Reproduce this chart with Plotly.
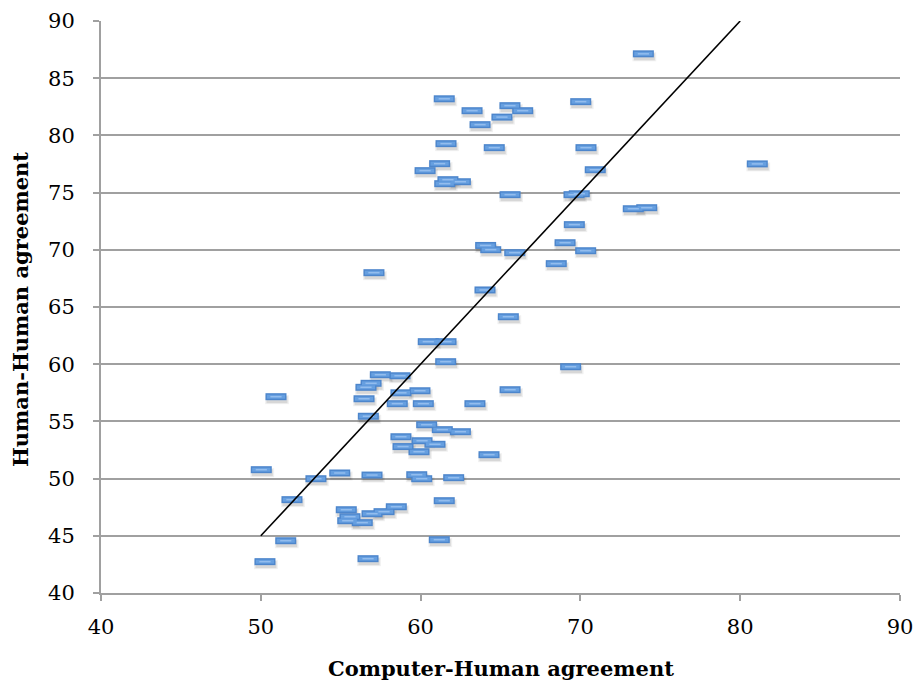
import plotly.graph_objects as go

# Agreement scores (percent) per item
computer_human = [
    73.94, 61.48, 63.22, 65.59, 66.39, 70.02, 65.09, 63.72, 61.59, 64.61,
    70.35, 61.19, 60.28, 70.93, 61.71, 62.49, 61.51, 65.60, 69.60, 69.93,
    73.31, 74.15, 69.62, 69.04, 64.07, 64.39, 65.89, 70.33, 68.49, 57.08,
    64.03, 65.49, 60.48, 61.59, 61.57, 69.39, 57.48, 58.71, 56.90, 56.58,
    50.95, 56.46, 58.77, 59.96, 58.54, 60.17, 63.40, 65.60, 56.73, 60.38,
    61.36, 62.49, 58.77, 60.09, 60.90, 58.90, 59.90, 64.28, 50.03, 54.94,
    53.45, 56.96, 59.76, 60.07, 62.07, 51.95, 61.48, 55.35, 55.58, 55.44,
    56.35, 56.96, 57.71, 58.48, 51.56, 61.17, 50.26, 56.71, 81.07,
]
human_human = [
    87.13, 83.20, 82.16, 82.60, 82.16, 82.95, 81.60, 80.94, 79.28, 78.93,
    78.93, 77.53, 76.92, 77.00, 76.13, 75.95, 75.78, 74.82, 74.82, 74.90,
    73.59, 73.68, 72.20, 70.62, 70.38, 70.01, 69.75, 69.92, 68.79, 68.00,
    66.49, 64.15, 61.97, 61.97, 60.22, 59.78, 59.08, 58.99, 58.33, 57.98,
    57.16, 56.98, 57.50, 57.68, 56.55, 56.55, 56.55, 57.77, 55.45, 54.71,
    54.28, 54.10, 53.66, 53.31, 53.00, 52.80, 52.35, 52.09, 50.78, 50.49,
    49.99, 50.31, 50.34, 49.99, 50.08, 48.16, 48.07, 47.28, 46.67, 46.32,
    46.15, 46.93, 47.11, 47.54, 44.57, 44.66, 42.74, 43.00, 77.51,
]

# Reference line
line_x = [50, 80]
line_y = [45, 90]

x_range = [40, 90]
y_range = [40, 90]
x_ticks = [40, 50, 60, 70, 80, 90]
y_ticks = [40, 45, 50, 55, 60, 65, 70, 75, 80, 85, 90]

W, H = 919, 683
margin = dict(l=101, r=19, t=21, b=90)
px_per_x = (W - margin["l"] - margin["r"]) / (x_range[1] - x_range[0])
px_per_y = (H - margin["t"] - margin["b"]) / (y_range[1] - y_range[0])

# Drop shadow: same points on a hidden axis pair nudged a few pixels
dx, dy = 1.0 / px_per_x, 3.0 / px_per_y
shadow_xr = [x_range[0] - dx, x_range[1] - dx]
shadow_yr = [y_range[0] + dy, y_range[1] + dy]

fig = go.Figure()

for size, width, color in [(17, 9, "rgba(0,0,0,0.06)"), (15, 7, "rgba(0,0,0,0.10)")]:
    fig.add_trace(go.Scatter(
        x=computer_human, y=human_human, mode="markers",
        xaxis="x", yaxis="y", hoverinfo="skip", showlegend=False,
        marker=dict(symbol="line-ew", size=size, line=dict(width=width, color=color)),
    ))

# Bar-shaped markers: border, fill, highlight
for size, width, color in [(15, 7, "#4d86cc"), (13, 4, "#669fe0"), (8, 1.5, "#93bdee")]:
    fig.add_trace(go.Scatter(
        x=computer_human, y=human_human, mode="markers",
        xaxis="x2", yaxis="y2", showlegend=False,
        marker=dict(symbol="line-ew", size=size, line=dict(width=width, color=color)),
    ))

fig.add_trace(go.Scatter(
    x=line_x, y=line_y, mode="lines", xaxis="x2", yaxis="y2",
    showlegend=False, line=dict(color="black", width=1.6),
))

tick_font = dict(family="DejaVu Serif", size=21, color="#000000")
title_font = dict(family="DejaVu Serif", size=21, color="#000000")

fig.update_layout(
    width=W, height=H, margin=margin,
    paper_bgcolor="white", plot_bgcolor="white",
    xaxis=dict(range=shadow_xr, visible=False, showgrid=False, zeroline=False,
               automargin=False),
    yaxis=dict(range=shadow_yr, visible=False, showgrid=False, zeroline=False,
               automargin=False),
    xaxis2=dict(
        range=x_range, overlaying="x", tickvals=x_ticks, showgrid=False, zeroline=False,
        showline=True, linecolor="#a0a0a0", linewidth=2, automargin=False,
        ticks="outside", ticklen=6, tickwidth=2, tickcolor="#a0a0a0",
        tickfont=tick_font, ticklabelstandoff=8,
    ),
    yaxis2=dict(
        range=y_range, overlaying="y", tickvals=y_ticks, showgrid=True,
        gridcolor="#a0a0a0", gridwidth=2, zeroline=False, automargin=False,
        showline=True, linecolor="#a0a0a0", linewidth=2,
        ticks="outside", ticklen=6, tickwidth=2, tickcolor="#a0a0a0",
        tickfont=tick_font, ticklabelstandoff=14,
    ),
    annotations=[
        dict(text="<b>Computer-Human agreement</b>", font=title_font,
             xref="paper", yref="paper", x=0.5, y=-(668 - 593) / (593 - 21),
             xanchor="center", yanchor="middle", showarrow=False),
        dict(text="<b>Human-Human agreement</b>", font=title_font, textangle=-90,
             xref="paper", yref="paper", x=-(101 - 20) / (900 - 101), y=0.5 - 3 / 572,
             xanchor="center", yanchor="middle", showarrow=False),
    ],
)

fig.write_html("out.html")
